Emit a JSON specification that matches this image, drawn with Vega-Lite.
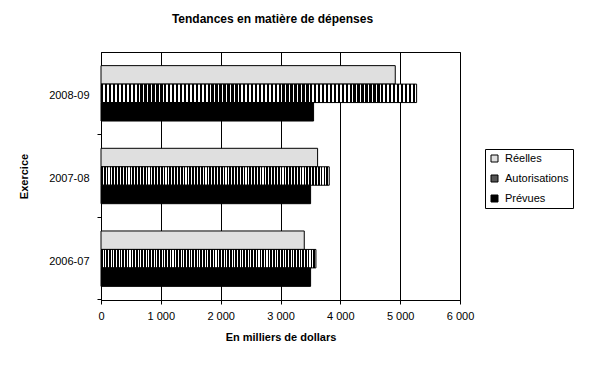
{
  "$schema": "https://vega.github.io/schema/vega-lite/v6.json",
  "width": 359,
  "height": 248,
  "autosize": "none",
  "padding": {"left": 101, "top": 52, "right": 137, "bottom": 66},
  "background": "white",
  "title": {"text": "Tendances en matière de dépenses", "font": "Liberation Sans", "fontSize": 12, "fontWeight": "bold", "anchor": "middle", "frame": "group", "offset": 26, "dx": -8, "color": "black"},
  "data": {"values": [
    {"exercice": "2008-09", "serie": "Réelles", "montant": 4918},
    {"exercice": "2008-09", "serie": "Autorisations", "montant": 5275},
    {"exercice": "2008-09", "serie": "Prévues", "montant": 3553},
    {"exercice": "2007-08", "serie": "Réelles", "montant": 3620},
    {"exercice": "2007-08", "serie": "Autorisations", "montant": 3815},
    {"exercice": "2007-08", "serie": "Prévues", "montant": 3503},
    {"exercice": "2006-07", "serie": "Réelles", "montant": 3397},
    {"exercice": "2006-07", "serie": "Autorisations", "montant": 3592},
    {"exercice": "2006-07", "serie": "Prévues", "montant": 3503}
  ]},
  "mark": {"type": "bar", "stroke": "black", "strokeWidth": 1},
  "encoding": {
    "y": {"field": "exercice", "type": "nominal", "sort": ["2008-09", "2007-08", "2006-07"],
      "scale": {"paddingInner": 0.33, "paddingOuter": 0.165},
      "axis": {"title": "Exercice", "ticks": true, "bandPosition": 1.246, "tickExtra": false, "tickSize": 4, "tickColor": "black", "labelPadding": 8, "labelOffset": 3, "titlePadding": 19, "labelFont": "Liberation Sans", "labelFontSize": 11, "labelColor": "black", "titleFont": "Liberation Sans", "titleFontSize": 11, "titleFontWeight": "bold", "titleColor": "black", "domainColor": "black", "grid": false}},
    "yOffset": {"field": "serie", "type": "nominal", "sort": ["Réelles", "Autorisations", "Prévues"], "scale": {"paddingInner": 0, "paddingOuter": 0}},
    "x": {"field": "montant", "type": "quantitative", "scale": {"domain": [0, 6000], "nice": false},
      "axis": {"title": "En milliers de dollars", "values": [0, 1000, 2000, 3000, 4000, 5000, 6000], "labelExpr": "replace(format(datum.value, ','), ',', ' ')", "grid": true, "gridColor": "black", "gridWidth": 1, "tickColor": "black", "tickSize": 4, "domainColor": "black", "labelPadding": 6, "titlePadding": 10, "labelFont": "Liberation Sans", "labelFontSize": 11, "labelColor": "black", "titleFont": "Liberation Sans", "titleFontSize": 11, "titleFontWeight": "bold", "titleColor": "black", "labelFlush": false}},
    "fill": {
      "condition": {"test": "datum.serie === 'Autorisations'", "value": {"gradient": "linear", "x1": 0, "y1": 0, "x2": 1, "y2": 0, "stops": [
        {"offset": 0, "color": "#000"}, {"offset": 0.0075, "color": "#000"}, {"offset": 0.0075, "color": "#fff"}, {"offset": 0.0125, "color": "#fff"},
        {"offset": 0.0125, "color": "#000"}, {"offset": 0.02, "color": "#000"}, {"offset": 0.02, "color": "#fff"}, {"offset": 0.025, "color": "#fff"},
        {"offset": 0.025, "color": "#000"}, {"offset": 0.0325, "color": "#000"}, {"offset": 0.0325, "color": "#fff"}, {"offset": 0.0375, "color": "#fff"},
        {"offset": 0.0375, "color": "#000"}, {"offset": 0.045, "color": "#000"}, {"offset": 0.045, "color": "#fff"}, {"offset": 0.05, "color": "#fff"},
        {"offset": 0.05, "color": "#000"}, {"offset": 0.0575, "color": "#000"}, {"offset": 0.0575, "color": "#fff"}, {"offset": 0.0625, "color": "#fff"},
        {"offset": 0.0625, "color": "#000"}, {"offset": 0.07, "color": "#000"}, {"offset": 0.07, "color": "#fff"}, {"offset": 0.075, "color": "#fff"},
        {"offset": 0.075, "color": "#000"}, {"offset": 0.0825, "color": "#000"}, {"offset": 0.0825, "color": "#fff"}, {"offset": 0.0875, "color": "#fff"},
        {"offset": 0.0875, "color": "#000"}, {"offset": 0.095, "color": "#000"}, {"offset": 0.095, "color": "#fff"}, {"offset": 0.1, "color": "#fff"},
        {"offset": 0.1, "color": "#000"}, {"offset": 0.1075, "color": "#000"}, {"offset": 0.1075, "color": "#fff"}, {"offset": 0.1125, "color": "#fff"},
        {"offset": 0.1125, "color": "#000"}, {"offset": 0.12, "color": "#000"}, {"offset": 0.12, "color": "#fff"}, {"offset": 0.125, "color": "#fff"},
        {"offset": 0.125, "color": "#000"}, {"offset": 0.1325, "color": "#000"}, {"offset": 0.1325, "color": "#fff"}, {"offset": 0.1375, "color": "#fff"},
        {"offset": 0.1375, "color": "#000"}, {"offset": 0.145, "color": "#000"}, {"offset": 0.145, "color": "#fff"}, {"offset": 0.15, "color": "#fff"},
        {"offset": 0.15, "color": "#000"}, {"offset": 0.1575, "color": "#000"}, {"offset": 0.1575, "color": "#fff"}, {"offset": 0.1625, "color": "#fff"},
        {"offset": 0.1625, "color": "#000"}, {"offset": 0.17, "color": "#000"}, {"offset": 0.17, "color": "#fff"}, {"offset": 0.175, "color": "#fff"},
        {"offset": 0.175, "color": "#000"}, {"offset": 0.1825, "color": "#000"}, {"offset": 0.1825, "color": "#fff"}, {"offset": 0.1875, "color": "#fff"},
        {"offset": 0.1875, "color": "#000"}, {"offset": 0.195, "color": "#000"}, {"offset": 0.195, "color": "#fff"}, {"offset": 0.2, "color": "#fff"},
        {"offset": 0.2, "color": "#000"}, {"offset": 0.2075, "color": "#000"}, {"offset": 0.2075, "color": "#fff"}, {"offset": 0.2125, "color": "#fff"},
        {"offset": 0.2125, "color": "#000"}, {"offset": 0.22, "color": "#000"}, {"offset": 0.22, "color": "#fff"}, {"offset": 0.225, "color": "#fff"},
        {"offset": 0.225, "color": "#000"}, {"offset": 0.2325, "color": "#000"}, {"offset": 0.2325, "color": "#fff"}, {"offset": 0.2375, "color": "#fff"},
        {"offset": 0.2375, "color": "#000"}, {"offset": 0.245, "color": "#000"}, {"offset": 0.245, "color": "#fff"}, {"offset": 0.25, "color": "#fff"},
        {"offset": 0.25, "color": "#000"}, {"offset": 0.2575, "color": "#000"}, {"offset": 0.2575, "color": "#fff"}, {"offset": 0.2625, "color": "#fff"},
        {"offset": 0.2625, "color": "#000"}, {"offset": 0.27, "color": "#000"}, {"offset": 0.27, "color": "#fff"}, {"offset": 0.275, "color": "#fff"},
        {"offset": 0.275, "color": "#000"}, {"offset": 0.2825, "color": "#000"}, {"offset": 0.2825, "color": "#fff"}, {"offset": 0.2875, "color": "#fff"},
        {"offset": 0.2875, "color": "#000"}, {"offset": 0.295, "color": "#000"}, {"offset": 0.295, "color": "#fff"}, {"offset": 0.3, "color": "#fff"},
        {"offset": 0.3, "color": "#000"}, {"offset": 0.3075, "color": "#000"}, {"offset": 0.3075, "color": "#fff"}, {"offset": 0.3125, "color": "#fff"},
        {"offset": 0.3125, "color": "#000"}, {"offset": 0.32, "color": "#000"}, {"offset": 0.32, "color": "#fff"}, {"offset": 0.325, "color": "#fff"},
        {"offset": 0.325, "color": "#000"}, {"offset": 0.3325, "color": "#000"}, {"offset": 0.3325, "color": "#fff"}, {"offset": 0.3375, "color": "#fff"},
        {"offset": 0.3375, "color": "#000"}, {"offset": 0.345, "color": "#000"}, {"offset": 0.345, "color": "#fff"}, {"offset": 0.35, "color": "#fff"},
        {"offset": 0.35, "color": "#000"}, {"offset": 0.3575, "color": "#000"}, {"offset": 0.3575, "color": "#fff"}, {"offset": 0.3625, "color": "#fff"},
        {"offset": 0.3625, "color": "#000"}, {"offset": 0.37, "color": "#000"}, {"offset": 0.37, "color": "#fff"}, {"offset": 0.375, "color": "#fff"},
        {"offset": 0.375, "color": "#000"}, {"offset": 0.3825, "color": "#000"}, {"offset": 0.3825, "color": "#fff"}, {"offset": 0.3875, "color": "#fff"},
        {"offset": 0.3875, "color": "#000"}, {"offset": 0.395, "color": "#000"}, {"offset": 0.395, "color": "#fff"}, {"offset": 0.4, "color": "#fff"},
        {"offset": 0.4, "color": "#000"}, {"offset": 0.4075, "color": "#000"}, {"offset": 0.4075, "color": "#fff"}, {"offset": 0.4125, "color": "#fff"},
        {"offset": 0.4125, "color": "#000"}, {"offset": 0.42, "color": "#000"}, {"offset": 0.42, "color": "#fff"}, {"offset": 0.425, "color": "#fff"},
        {"offset": 0.425, "color": "#000"}, {"offset": 0.4325, "color": "#000"}, {"offset": 0.4325, "color": "#fff"}, {"offset": 0.4375, "color": "#fff"},
        {"offset": 0.4375, "color": "#000"}, {"offset": 0.445, "color": "#000"}, {"offset": 0.445, "color": "#fff"}, {"offset": 0.45, "color": "#fff"},
        {"offset": 0.45, "color": "#000"}, {"offset": 0.4575, "color": "#000"}, {"offset": 0.4575, "color": "#fff"}, {"offset": 0.4625, "color": "#fff"},
        {"offset": 0.4625, "color": "#000"}, {"offset": 0.47, "color": "#000"}, {"offset": 0.47, "color": "#fff"}, {"offset": 0.475, "color": "#fff"},
        {"offset": 0.475, "color": "#000"}, {"offset": 0.4825, "color": "#000"}, {"offset": 0.4825, "color": "#fff"}, {"offset": 0.4875, "color": "#fff"},
        {"offset": 0.4875, "color": "#000"}, {"offset": 0.495, "color": "#000"}, {"offset": 0.495, "color": "#fff"}, {"offset": 0.5, "color": "#fff"},
        {"offset": 0.5, "color": "#000"}, {"offset": 0.5075, "color": "#000"}, {"offset": 0.5075, "color": "#fff"}, {"offset": 0.5125, "color": "#fff"},
        {"offset": 0.5125, "color": "#000"}, {"offset": 0.52, "color": "#000"}, {"offset": 0.52, "color": "#fff"}, {"offset": 0.525, "color": "#fff"},
        {"offset": 0.525, "color": "#000"}, {"offset": 0.5325, "color": "#000"}, {"offset": 0.5325, "color": "#fff"}, {"offset": 0.5375, "color": "#fff"},
        {"offset": 0.5375, "color": "#000"}, {"offset": 0.545, "color": "#000"}, {"offset": 0.545, "color": "#fff"}, {"offset": 0.55, "color": "#fff"},
        {"offset": 0.55, "color": "#000"}, {"offset": 0.5575, "color": "#000"}, {"offset": 0.5575, "color": "#fff"}, {"offset": 0.5625, "color": "#fff"},
        {"offset": 0.5625, "color": "#000"}, {"offset": 0.57, "color": "#000"}, {"offset": 0.57, "color": "#fff"}, {"offset": 0.575, "color": "#fff"},
        {"offset": 0.575, "color": "#000"}, {"offset": 0.5825, "color": "#000"}, {"offset": 0.5825, "color": "#fff"}, {"offset": 0.5875, "color": "#fff"},
        {"offset": 0.5875, "color": "#000"}, {"offset": 0.595, "color": "#000"}, {"offset": 0.595, "color": "#fff"}, {"offset": 0.6, "color": "#fff"},
        {"offset": 0.6, "color": "#000"}, {"offset": 0.6075, "color": "#000"}, {"offset": 0.6075, "color": "#fff"}, {"offset": 0.6125, "color": "#fff"},
        {"offset": 0.6125, "color": "#000"}, {"offset": 0.62, "color": "#000"}, {"offset": 0.62, "color": "#fff"}, {"offset": 0.625, "color": "#fff"},
        {"offset": 0.625, "color": "#000"}, {"offset": 0.6325, "color": "#000"}, {"offset": 0.6325, "color": "#fff"}, {"offset": 0.6375, "color": "#fff"},
        {"offset": 0.6375, "color": "#000"}, {"offset": 0.645, "color": "#000"}, {"offset": 0.645, "color": "#fff"}, {"offset": 0.65, "color": "#fff"},
        {"offset": 0.65, "color": "#000"}, {"offset": 0.6575, "color": "#000"}, {"offset": 0.6575, "color": "#fff"}, {"offset": 0.6625, "color": "#fff"},
        {"offset": 0.6625, "color": "#000"}, {"offset": 0.67, "color": "#000"}, {"offset": 0.67, "color": "#fff"}, {"offset": 0.675, "color": "#fff"},
        {"offset": 0.675, "color": "#000"}, {"offset": 0.6825, "color": "#000"}, {"offset": 0.6825, "color": "#fff"}, {"offset": 0.6875, "color": "#fff"},
        {"offset": 0.6875, "color": "#000"}, {"offset": 0.695, "color": "#000"}, {"offset": 0.695, "color": "#fff"}, {"offset": 0.7, "color": "#fff"},
        {"offset": 0.7, "color": "#000"}, {"offset": 0.7075, "color": "#000"}, {"offset": 0.7075, "color": "#fff"}, {"offset": 0.7125, "color": "#fff"},
        {"offset": 0.7125, "color": "#000"}, {"offset": 0.72, "color": "#000"}, {"offset": 0.72, "color": "#fff"}, {"offset": 0.725, "color": "#fff"},
        {"offset": 0.725, "color": "#000"}, {"offset": 0.7325, "color": "#000"}, {"offset": 0.7325, "color": "#fff"}, {"offset": 0.7375, "color": "#fff"},
        {"offset": 0.7375, "color": "#000"}, {"offset": 0.745, "color": "#000"}, {"offset": 0.745, "color": "#fff"}, {"offset": 0.75, "color": "#fff"},
        {"offset": 0.75, "color": "#000"}, {"offset": 0.7575, "color": "#000"}, {"offset": 0.7575, "color": "#fff"}, {"offset": 0.7625, "color": "#fff"},
        {"offset": 0.7625, "color": "#000"}, {"offset": 0.77, "color": "#000"}, {"offset": 0.77, "color": "#fff"}, {"offset": 0.775, "color": "#fff"},
        {"offset": 0.775, "color": "#000"}, {"offset": 0.7825, "color": "#000"}, {"offset": 0.7825, "color": "#fff"}, {"offset": 0.7875, "color": "#fff"},
        {"offset": 0.7875, "color": "#000"}, {"offset": 0.795, "color": "#000"}, {"offset": 0.795, "color": "#fff"}, {"offset": 0.8, "color": "#fff"},
        {"offset": 0.8, "color": "#000"}, {"offset": 0.8075, "color": "#000"}, {"offset": 0.8075, "color": "#fff"}, {"offset": 0.8125, "color": "#fff"},
        {"offset": 0.8125, "color": "#000"}, {"offset": 0.82, "color": "#000"}, {"offset": 0.82, "color": "#fff"}, {"offset": 0.825, "color": "#fff"},
        {"offset": 0.825, "color": "#000"}, {"offset": 0.8325, "color": "#000"}, {"offset": 0.8325, "color": "#fff"}, {"offset": 0.8375, "color": "#fff"},
        {"offset": 0.8375, "color": "#000"}, {"offset": 0.845, "color": "#000"}, {"offset": 0.845, "color": "#fff"}, {"offset": 0.85, "color": "#fff"},
        {"offset": 0.85, "color": "#000"}, {"offset": 0.8575, "color": "#000"}, {"offset": 0.8575, "color": "#fff"}, {"offset": 0.8625, "color": "#fff"},
        {"offset": 0.8625, "color": "#000"}, {"offset": 0.87, "color": "#000"}, {"offset": 0.87, "color": "#fff"}, {"offset": 0.875, "color": "#fff"},
        {"offset": 0.875, "color": "#000"}, {"offset": 0.8825, "color": "#000"}, {"offset": 0.8825, "color": "#fff"}, {"offset": 0.8875, "color": "#fff"},
        {"offset": 0.8875, "color": "#000"}, {"offset": 0.895, "color": "#000"}, {"offset": 0.895, "color": "#fff"}, {"offset": 0.9, "color": "#fff"},
        {"offset": 0.9, "color": "#000"}, {"offset": 0.9075, "color": "#000"}, {"offset": 0.9075, "color": "#fff"}, {"offset": 0.9125, "color": "#fff"},
        {"offset": 0.9125, "color": "#000"}, {"offset": 0.92, "color": "#000"}, {"offset": 0.92, "color": "#fff"}, {"offset": 0.925, "color": "#fff"},
        {"offset": 0.925, "color": "#000"}, {"offset": 0.9325, "color": "#000"}, {"offset": 0.9325, "color": "#fff"}, {"offset": 0.9375, "color": "#fff"},
        {"offset": 0.9375, "color": "#000"}, {"offset": 0.945, "color": "#000"}, {"offset": 0.945, "color": "#fff"}, {"offset": 0.95, "color": "#fff"},
        {"offset": 0.95, "color": "#000"}, {"offset": 0.9575, "color": "#000"}, {"offset": 0.9575, "color": "#fff"}, {"offset": 0.9625, "color": "#fff"},
        {"offset": 0.9625, "color": "#000"}, {"offset": 0.97, "color": "#000"}, {"offset": 0.97, "color": "#fff"}, {"offset": 0.975, "color": "#fff"},
        {"offset": 0.975, "color": "#000"}, {"offset": 0.9825, "color": "#000"}, {"offset": 0.9825, "color": "#fff"}, {"offset": 0.9875, "color": "#fff"},
        {"offset": 0.9875, "color": "#000"}, {"offset": 0.995, "color": "#000"}, {"offset": 0.995, "color": "#fff"}, {"offset": 1, "color": "#fff"}
      ]}},
      "field": "serie", "type": "nominal",
      "scale": {"domain": ["Réelles", "Autorisations", "Prévues"], "range": ["#dfdfdf", "#555555", "#000000"]},
      "legend": {"orient": "none", "legendX": 384, "legendY": 97, "title": null, "strokeColor": "black", "fillColor": "white", "padding": 4, "cornerRadius": 0, "symbolType": "square", "symbolSize": 49, "symbolStrokeColor": "black", "symbolStrokeWidth": 1, "labelFont": "Liberation Sans", "labelFontSize": 11, "labelColor": "black", "rowPadding": 8, "labelOffset": 5}}
  },
  "config": {"view": {"stroke": "black", "strokeWidth": 1}}
}
